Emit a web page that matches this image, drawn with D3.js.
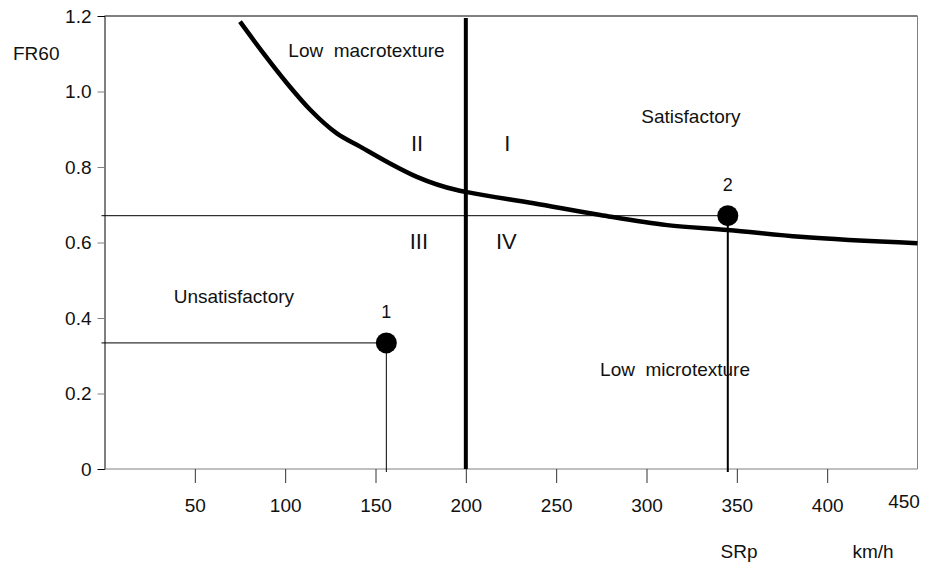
<!DOCTYPE html>
<html>
<head>
<meta charset="utf-8">
<script src="https://cdn.jsdelivr.net/npm/d3@7"></script>
<style>
  body { margin: 0; background: #fff; }
  text { font-family: "Liberation Sans", Arial, sans-serif; fill: #111; }
</style>
</head>
<body>
<script>
var width = 925,
    height = 563;

// friction curve FR60 vs SRp
var curveSpeed = [75, 88, 101, 114, 128.6, 141.5, 156.3, 172.9, 195, 200, 237.5, 274.4, 311.4, 345, 385, 450];
var curveFR = [1.185, 1.101, 1.022, 0.951, 0.889, 0.854, 0.814, 0.774, 0.739, 0.734, 0.704, 0.673, 0.646, 0.633, 0.615, 0.598];

var pointLabels = ['1', '2'];
var pointSpeed = [156, 345];
var pointFR = [0.334, 0.671];

var xTicks = [50, 100, 150, 200, 250, 300, 350, 400, 450];
var yTicks = [0, 0.2, 0.4, 0.6, 0.8, 1.0, 1.2];

var speedLimit = 200;

var svg = d3.select('body')
  .append('svg')
  .attr('width', width)
  .attr('height', height);

var x = d3.scaleLinear().domain([0, 450]).range([104.5, 917.5]);
var y = d3.scaleLinear().domain([0, 1.2]).range([469, 16]);

// frame
svg.append('line')
  .attr('x1', x(0)).attr('x2', x(450))
  .attr('y1', y(1.2)).attr('y2', y(1.2))
  .attr('stroke', '#000');
svg.append('line')
  .attr('x1', x(450)).attr('x2', x(450))
  .attr('y1', y(1.2)).attr('y2', y(0))
  .attr('stroke', '#808080');

// y axis
var yAxis = svg.append('g')
  .attr('transform', 'translate(' + x(0) + ',0)')
  .call(d3.axisLeft(y)
    .tickValues(yTicks)
    .tickSize(7)
    .tickPadding(6)
    .tickFormat(function(d) { return d === 0 ? '0' : d3.format('.1f')(d); }));
yAxis.select('.domain').attr('stroke', '#000');
yAxis.selectAll('.tick line').attr('stroke', '#808080');
yAxis.selectAll('.tick').filter(function(d) { return d === 0 || d === 1.2; })
  .select('line').remove();
yAxis.selectAll('text')
  .style('font-size', '19px')
  .style('font-family', '"Liberation Sans", Arial, sans-serif')
  .attr('fill', '#111');

// x axis
var xAxis = svg.append('g')
  .attr('transform', 'translate(0,' + y(0) + ')')
  .call(d3.axisBottom(x)
    .tickValues(xTicks)
    .tickSize(14)
    .tickPadding(16));
xAxis.select('.domain').attr('stroke', '#808080').attr('d', 'M' + x(0) + ',0H' + x(450));
xAxis.selectAll('.tick line').attr('stroke', '#333');
xAxis.selectAll('text')
  .style('font-size', '19px')
  .style('font-family', '"Liberation Sans", Arial, sans-serif')
  .attr('fill', '#111');
var lastTick = xAxis.selectAll('.tick').filter(function(d) { return d === 450; });
lastTick.select('line').remove();
lastTick.select('text').attr('dx', -14).attr('dy', '0.45em');

// axis titles
svg.append('text').attr('x', 13).attr('y', 60)
  .style('font-size', '19px').text('FR60');
svg.append('text').attr('x', 739).attr('y', 558)
  .attr('text-anchor', 'middle').style('font-size', '19px').text('SRp');
svg.append('text').attr('x', 873).attr('y', 558)
  .attr('text-anchor', 'middle').style('font-size', '19px').text('km/h');

// reference lines for the points
pointSpeed.forEach(function(s, i) {
  svg.append('line')
    .attr('x1', x(0) - 3).attr('x2', x(s))
    .attr('y1', y(pointFR[i])).attr('y2', y(pointFR[i]))
    .attr('stroke', '#000').attr('stroke-width', 1);
  svg.append('line')
    .attr('x1', x(s)).attr('x2', x(s))
    .attr('y1', y(pointFR[i])).attr('y2', y(0) + 3)
    .attr('stroke', '#000').attr('stroke-width', i === 0 ? 1 : 2);
});

// speed limit line
svg.append('line')
  .attr('x1', x(speedLimit)).attr('x2', x(speedLimit))
  .attr('y1', y(1.2) + 2).attr('y2', y(0))
  .attr('stroke', '#000').attr('stroke-width', 4);

// curve
var line = d3.line()
  .x(function(d) { return x(d[0]); })
  .y(function(d) { return y(d[1]); })
  .curve(d3.curveMonotoneX);

svg.append('path')
  .datum(d3.zip(curveSpeed, curveFR))
  .attr('d', line)
  .attr('fill', 'none')
  .attr('stroke', '#000')
  .attr('stroke-width', 4.5);

// points
svg.selectAll('.pt')
  .data(pointSpeed)
  .enter().append('circle')
  .attr('class', 'pt')
  .attr('cx', function(d) { return x(d); })
  .attr('cy', function(d, i) { return y(pointFR[i]); })
  .attr('r', 10.5)
  .attr('fill', '#000');

svg.selectAll('.ptlabel')
  .data(pointSpeed)
  .enter().append('text')
  .attr('class', 'ptlabel')
  .attr('x', function(d) { return x(d); })
  .attr('y', function(d, i) { return y(pointFR[i]) - 25; })
  .attr('text-anchor', 'middle')
  .style('font-size', '18px')
  .text(function(d, i) { return pointLabels[i]; });

// region labels
var regionText = [
  { t: 'Low  macrotexture', sx: 145, fr: 1.108, size: 19 },
  { t: 'Satisfactory', sx: 324.6, fr: 0.935, size: 19 },
  { t: 'Unsatisfactory', sx: 71.6, fr: 0.458, size: 19 },
  { t: 'Low  microtexture', sx: 315.8, fr: 0.264, size: 19 },
  { t: 'II', sx: 173, fr: 0.862, size: 22 },
  { t: 'I', sx: 223, fr: 0.862, size: 22 },
  { t: 'III', sx: 174, fr: 0.602, size: 22 },
  { t: 'IV', sx: 222.4, fr: 0.602, size: 22 }
];

svg.selectAll('.region')
  .data(regionText)
  .enter().append('text')
  .attr('class', 'region')
  .attr('x', function(d) { return x(d.sx); })
  .attr('y', function(d) { return y(d.fr); })
  .attr('dy', '0.35em')
  .attr('text-anchor', 'middle')
  .style('white-space', 'pre')
  .style('font-size', function(d) { return d.size + 'px'; })
  .text(function(d) { return d.t; });
</script>
</body>
</html>
